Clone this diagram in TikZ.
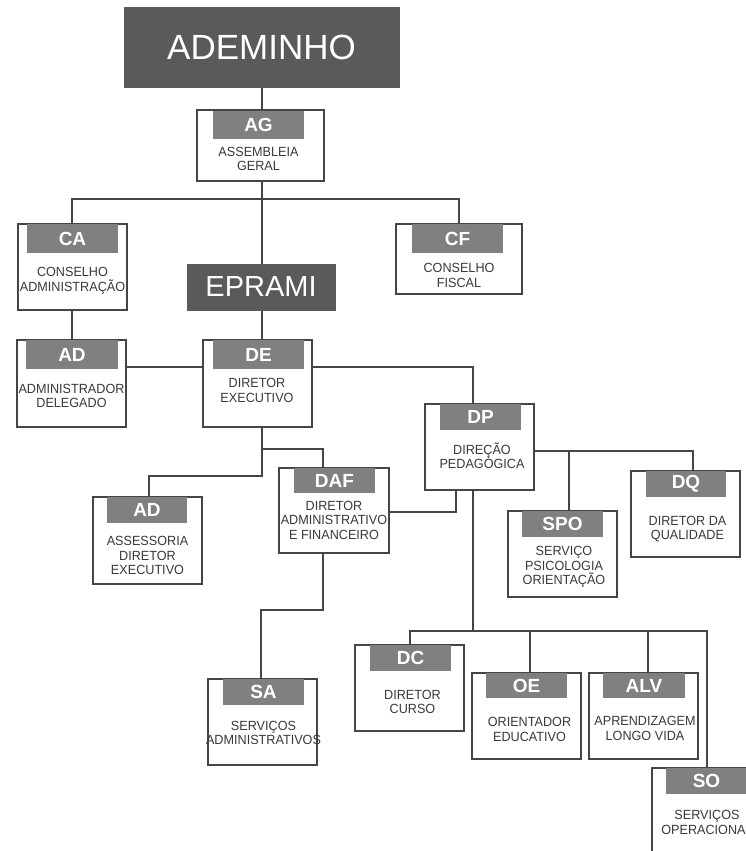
\documentclass[tikz,border=0pt]{standalone}
\usepackage{fontspec}
\setmainfont{Liberation Sans}
\newfontfamily\bodyfont[FakeStretch=0.95]{Liberation Sans}
\definecolor{dark}{HTML}{5A5A5A}
\definecolor{barc}{HTML}{808080}
\definecolor{ln}{HTML}{454545}
\definecolor{txt}{HTML}{3A3A3A}
\pgfdeclarelayer{bgfill}
\pgfdeclarelayer{background}
\pgfsetlayers{bgfill,background,main}
\begin{document}
\begin{tikzpicture}[x=1pt,y=-1pt,
 obox/.style={draw=ln, line width=1.1pt, fill=white, inner sep=0pt, outer sep=0pt},
 obar/.style={fill=barc, text=white, font=\fontsize{19}{19}\selectfont\bfseries, inner sep=0pt, outer sep=0pt},
 otxt/.style={text=txt, font=\bodyfont\fontsize{13.3}{14.5}\selectfont, align=center, inner sep=0pt},
 title/.style={fill=dark, draw=dark, text=white, inner sep=0pt, outer sep=0pt},
 conn/.style={draw=ln, line width=1.1pt}]
\useasboundingbox (0,0) rectangle (746,851);
\clip (0,0) rectangle (746,851);
\begin{pgfonlayer}{bgfill}
\fill[white] (0,0) rectangle (746,851);
\end{pgfonlayer}

% title boxes
\node[title, minimum width=275pt, minimum height=80pt, font=\fontsize{35}{35}\selectfont] (ADEM) at (261.5,47) {ADEMINHO};
\node[title, minimum width=148pt, minimum height=46pt, font=\fontsize{29}{29}\selectfont] (EPR) at (261,287) {EPRAMI};

% AG
\node[obox, minimum width=127pt, minimum height=71pt] (AG) at (260.5,145.5) {};
\node[obar, minimum width=91pt, minimum height=28pt] (AGl) at (258.5,125) {AG};
\node[otxt] (AGt) at (258.5,159) {ASSEMBLEIA\\GERAL};
% CA
\node[obox, minimum width=109pt, minimum height=86pt] (CA) at (72.5,267) {};
\node[obar, minimum width=91pt, minimum height=29pt] (CAl) at (72.5,238.5) {CA};
\node[otxt] (CAt) at (72.5,281) {CONSELHO\\ADMINISTRAÇÃO};
% CF
\node[obox, minimum width=126pt, minimum height=70pt] (CF) at (459,259) {};
\node[obar, minimum width=91pt, minimum height=29pt] (CFl) at (457.5,238.5) {CF};
\node[otxt] (CFt) at (459,275.5) {CONSELHO\\FISCAL};
% AD1
\node[obox, minimum width=109pt, minimum height=87pt] (ADa) at (71.5,383.5) {};
\node[obar, minimum width=92pt, minimum height=29pt] (ADal) at (72,354.5) {AD};
\node[otxt] (ADat) at (71.5,396) {ADMINISTRADOR\\DELEGADO};
% DE
\node[obox, minimum width=109pt, minimum height=87pt] (DE) at (257.5,383.5) {};
\node[obar, minimum width=91pt, minimum height=29pt] (DEl) at (258.5,354.5) {DE};
\node[otxt] (DEt) at (257,390.5) {DIRETOR\\EXECUTIVO};
% DP
\node[obox, minimum width=109pt, minimum height=86pt] (DP) at (479.5,447) {};
\node[obar, minimum width=81pt, minimum height=26pt] (DPl) at (480.5,417) {DP};
\node[otxt] (DPt) at (482,455.5) {DIREÇÃO\\PEDAGÓGICA};
% DQ
\node[obox, minimum width=109pt, minimum height=86pt] (DQ) at (685.5,514) {};
\node[obar, minimum width=80pt, minimum height=26pt] (DQl) at (686,484) {DQ};
\node[otxt] (DQt) at (687.5,529) {DIRETOR DA\\QUALIDADE};
% SPO
\node[obox, minimum width=109pt, minimum height=86pt] (SPO) at (562.5,554) {};
\node[obar, minimum width=81pt, minimum height=26pt] (SPOl) at (562.5,524) {SPO};
\node[otxt] (SPOt) at (564,567) {SERVIÇO\\PSICOLOGIA\\ORIENTAÇÃO};
% DAF
\node[obox, minimum width=110pt, minimum height=85pt] (DAF) at (334,510.5) {};
\node[obar, minimum width=81pt, minimum height=25pt] (DAFl) at (334.5,480.5) {DAF};
\node[otxt] (DAFt) at (334,520) {DIRETOR\\ADMINISTRATIVO\\E FINANCEIRO};
% AD2
\node[obox, minimum width=109pt, minimum height=87pt] (ADb) at (147.5,540.5) {};
\node[obar, minimum width=80pt, minimum height=26pt] (ADbl) at (147,510) {AD};
\node[otxt] (ADbt) at (147.5,555.5) {ASSESSORIA\\DIRETOR\\EXECUTIVO};
% SA
\node[obox, minimum width=109pt, minimum height=86pt] (SA) at (262.5,722) {};
\node[obar, minimum width=81pt, minimum height=26pt] (SAl) at (263.5,692) {SA};
\node[otxt] (SAt) at (263.5,733) {SERVIÇOS\\ADMINISTRATIVOS};
% DC
\node[obox, minimum width=109pt, minimum height=86pt] (DC) at (409.5,688) {};
\node[obar, minimum width=81pt, minimum height=26pt] (DCl) at (410.5,658) {DC};
\node[otxt] (DCt) at (412.5,702) {DIRETOR\\CURSO};
% OE
\node[obox, minimum width=109pt, minimum height=86pt] (OE) at (526.5,716) {};
\node[obar, minimum width=81pt, minimum height=25pt] (OEl) at (526.5,685.5) {OE};
\node[otxt] (OEt) at (529.5,729.5) {ORIENTADOR\\EDUCATIVO};
% ALV
\node[obox, minimum width=109pt, minimum height=86pt] (ALV) at (643.5,716) {};
\node[obar, minimum width=82pt, minimum height=25pt] (ALVl) at (644,685.5) {ALV};
\node[otxt] (ALVt) at (645,728.5) {APRENDIZAGEM\\LONGO VIDA};
% SO
\node[obox, minimum width=109pt, minimum height=86pt] (SO) at (706.5,811) {};
\node[obar, minimum width=81pt, minimum height=26pt] (SOl) at (706.5,781) {SO};
\node[otxt] (SOt) at (707,822.5) {SERVIÇOS\\OPERACIONAL};

% junction coordinates
\coordinate (j1) at (262,199);
\coordinate (j2) at (0,367);
\coordinate (caj) at (72,0);
\coordinate (dpin) at (473,404);
\coordinate (dpout) at (473,490);
\coordinate (dpdaf) at (456,490);
\coordinate (deout) at (262,427);
\coordinate (dafin) at (323,468);
\coordinate (adbin) at (149,497);
\coordinate (dafout) at (323,553);
\coordinate (sain) at (261,679);
\coordinate (dqin) at (693,471);
\coordinate (spoin) at (569,511);
\coordinate (dcin) at (410,645);
\coordinate (oein) at (530,673);
\coordinate (alvin) at (648,673);
\coordinate (soin) at (707,768);

% connectors
\begin{pgfonlayer}{background}
\draw[conn] (ADEM.south -| j1) -- (AG.north -| j1);
\draw[conn] (AG.south -| j1) -- (EPR.north -| j1);
\draw[conn] (CA.north -| caj) |- (j1) -| (CF.north);
\draw[conn] (CA.south -| caj) -- (ADa.north -| caj);
\draw[conn] (EPR.south -| j1) -- (DE.north -| j1);
\draw[conn] (ADa.east |- j2) -- (DE.west |- j2);
\draw[conn] (DE.east |- j2) -| (dpin);
\draw[conn] (deout) |- (262,449) -| (dafin);
\draw[conn] (deout) |- (262,476) -| (adbin);
\draw[conn] (DAF.east |- 0,512) -| (dpdaf);
\draw[conn] (dafout) |- (261,610) -| (sain);
\draw[conn] (DP.east |- 0,451) -| (dqin);
\draw[conn] (569,451) -- (spoin);
\draw[conn] (dpout) -- (473,631);
\draw[conn] (dcin) |- (473,631) -| (soin);
\draw[conn] (oein) -- (530,631);
\draw[conn] (alvin) -- (648,631);
\end{pgfonlayer}
\end{tikzpicture}
\end{document}
